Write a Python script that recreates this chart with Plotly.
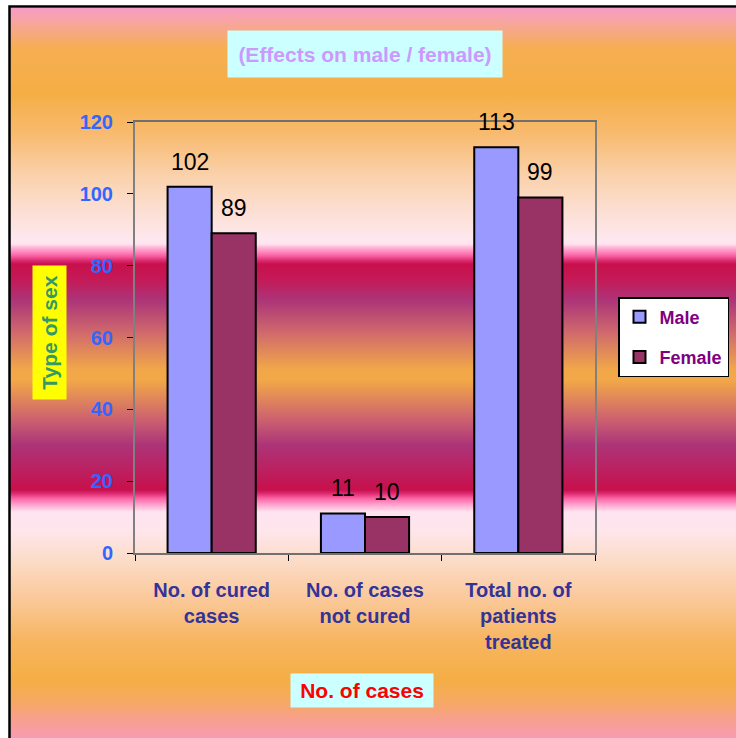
import base64
import plotly.graph_objects as go

# Chart data
categories = ["No. of cured<br>cases", "No. of cases<br>not cured", "Total no. of<br>patients<br>treated"]
male = [102, 11, 113]
female = [89, 10, 99]
y_ticks = [0, 20, 40, 60, 80, 100, 120]

W, H = 736, 738
FONT = "Arial, Liberation Sans, sans-serif"

# Banded vertical background gradient (offsets in px from the top of the frame)
stops = [
    (0, "#F79CC4"), (14, "#F7A5A0"), (40, "#F6AE52"), (85, "#F5AE45"),
    (125, "#F8BA6E"), (165, "#FAD0A8"), (200, "#FCDED0"), (230, "#FEE8EE"),
    (236, "#FFE4F0"), (240, "#FFB0D4"), (244, "#FF88C0"), (248, "#F860A0"),
    (252, "#E03078"), (256, "#C8104C"), (272, "#C41A58"), (292, "#AC3478"),
    (325, "#D06A6C"), (362, "#F2A848"), (372, "#F2A848"), (412, "#CC6070"),
    (437, "#AC3478"), (462, "#BC2060"), (482, "#C8104C"), (486, "#E03078"),
    (490, "#F860A0"), (494, "#FF88C0"), (498, "#FFB0D4"), (504, "#FFE4F0"),
    (522, "#FEE6EC"), (552, "#FCDCC8"), (592, "#FAC898"), (632, "#F7B560"),
    (672, "#F5AE45"), (694, "#F6A862"), (712, "#F7A090"), (730, "#F79CB0"),
]
GRAD_H = 730
stop_xml = "".join(
    f'<stop offset="{o / GRAD_H:.4f}" stop-color="{c}"/>' for o, c in stops
)
svg = (
    f'<svg xmlns="http://www.w3.org/2000/svg" width="100" height="{GRAD_H}" '
    f'viewBox="0 0 100 {GRAD_H}" preserveAspectRatio="none">'
    f'<defs><linearGradient id="g" x1="0" y1="0" x2="0" y2="1">{stop_xml}'
    f'</linearGradient></defs><rect width="100" height="{GRAD_H}" fill="url(#g)"/></svg>'
)
bg_src = "data:image/svg+xml;base64," + base64.b64encode(svg.encode()).decode()

fig = go.Figure()
fig.add_trace(go.Bar(
    name="Male", x=categories, y=male,
    marker=dict(color="#9999FF", line=dict(color="black", width=2)),
    legendgroup="m",
))
fig.add_trace(go.Bar(
    name="Female", x=categories, y=female,
    marker=dict(color="#993366", line=dict(color="black", width=2)),
    legendgroup="f",
))

# Value labels above each bar
annotations = []
for i, cat in enumerate(categories):
    for vals, dx in ((male, -22), (female, 22)):
        annotations.append(dict(
            x=cat, y=vals[i], xref="x", yref="y", text=str(vals[i]),
            showarrow=False, yanchor="bottom", xshift=dx, yshift=10,
            font=dict(family=FONT, size=23, color="black"),
        ))

# Chart title
annotations.append(dict(
    x=365 / W, y=1 - 54 / H, xref="paper", yref="paper",
    text="(Effects on male / female)", showarrow=False,
    xanchor="center", yanchor="middle", width=274, height=46, borderpad=0,
    bgcolor="#CCFFFF",
    font=dict(family=FONT, size=21, color="#CC99FF", weight="bold"),
))
# Axis titles
annotations.append(dict(
    x=49.5 / W, y=1 - 332.5 / H, xref="paper", yref="paper",
    text="Type of sex", showarrow=False, textangle=-90,
    xanchor="center", yanchor="middle", width=133, height=33, borderpad=0,
    bgcolor="#FFFF00",
    font=dict(family=FONT, size=21, color="#339966", weight="bold"),
))
annotations.append(dict(
    x=362 / W, y=1 - 690.5 / H, xref="paper", yref="paper",
    text="No. of cases", showarrow=False,
    xanchor="center", yanchor="middle", width=142, height=33, borderpad=0,
    bgcolor="#CCFFFF",
    font=dict(family=FONT, size=21, color="#FF0000", weight="bold"),
))

fig.update_layout(
    width=W, height=H,
    margin=dict(l=0, r=0, t=0, b=0),
    paper_bgcolor="white",
    plot_bgcolor="#C0C0C0",
    barmode="group", bargap=0.425, bargroupgap=0,
    font=dict(family=FONT),
    annotations=annotations,
    showlegend=True,
    legend=dict(
        x=618 / W, y=1 - 297 / H, xanchor="left", yanchor="top",
        bgcolor="white", bordercolor="black", borderwidth=1.5,
        font=dict(family=FONT, size=18, color="#800080", weight="bold"),
        tracegroupgap=14, entrywidth=120,
    ),
    images=[dict(
        source=bg_src, xref="paper", yref="paper",
        x=10 / W, y=1 - 8 / H, sizex=1 - 10 / W, sizey=1 - 8 / H,
        xanchor="left", yanchor="top", sizing="stretch", layer="below",
    )],
    shapes=[dict(
        type="rect", xref="paper", yref="paper",
        x0=9.5 / W, x1=1.02, y0=-0.02, y1=1 - 6.5 / H,
        line=dict(color="black", width=2.5), layer="below",
    )],
)

fig.update_xaxes(
    domain=[135 / W, 595 / W], automargin=False,
    type="category", tickson="boundaries",
    ticks="outside", ticklen=6, tickcolor="black", tickwidth=1,
    showline=True, linecolor="#707070", linewidth=2, mirror=True,
    tickfont=dict(family=FONT, size=20, color="#333399", weight="bold"),
    ticklabelstandoff=18, showgrid=False,
)
fig.update_yaxes(
    domain=[1 - 553 / H, 1 - 122 / H], automargin=False,
    range=[0, 120], tickvals=y_ticks,
    ticks="outside", ticklen=6, tickcolor="black", tickwidth=1,
    showline=True, linecolor="#808080", linewidth=2, mirror=True,
    tickfont=dict(family=FONT, size=20, color="#3366FF", weight="bold"),
    ticklabelstandoff=10, showgrid=False, zeroline=False,
)

fig.write_html("out.html")
